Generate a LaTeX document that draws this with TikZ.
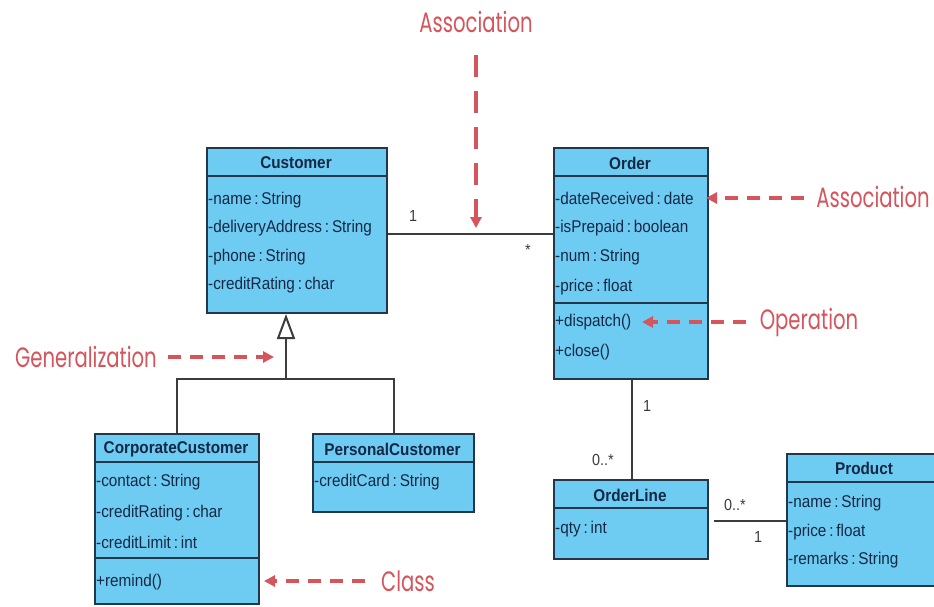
\documentclass[tikz,border=0pt]{standalone}
\usepackage{fontspec}
\setmainfont{Liberation Sans}
\newfontfamily\boxfont[FakeStretch=0.9]{Liberation Sans}
\newfontfamily\annfont[FakeStretch=0.70]{Poppins}
\usetikzlibrary{arrows.meta}
\definecolor{boxfill}{RGB}{110,204,242}
\definecolor{boxline}{RGB}{35,55,75}
\definecolor{txtc}{RGB}{20,40,70}
\definecolor{annc}{RGB}{214,84,92}
\definecolor{connc}{RGB}{60,60,60}
\tikzset{
  classbox/.style={draw=boxline, fill=boxfill, line width=2pt, inner sep=0pt, anchor=north west},
  attr/.style={font=\boxfont\fontsize{17}{17}\selectfont, text=txtc, anchor=west, inner sep=0pt},
  head/.style={font=\boxfont\bfseries\fontsize{17}{17}\selectfont, text=txtc, inner sep=0pt},
  sepline/.style={draw=boxline, line width=2pt},
  connline/.style={draw=connc, line width=2pt},
  mult/.style={font=\boxfont\fontsize{16}{16}\selectfont, text=connc, inner sep=0pt},
  annarrow/.style={draw=annc, line width=4pt, dash pattern=on 13pt off 9pt, -{Triangle[length=11pt,width=11pt]}},
  anntext/.style={font=\annfont\fontsize{28}{28}\selectfont, text=annc, inner sep=0pt},
}
\newcommand{\cl}{\,:\,}
\begin{document}
\begin{tikzpicture}[x=1pt,y=-1pt]
\useasboundingbox (0,0) rectangle (934,606);
\clip (0,0) rectangle (934,606);
\fill[white] (0,0) rectangle (934,606);

% Customer
\node[classbox, minimum width=180pt, minimum height=165pt] (cust) at (206,147) {};
\draw[sepline] (206,176) -- (386,176);
\node[head] (custh) at (296,163) {Customer};
\node[attr] (custa1) at (208,200) {-name\cl String};
\node[attr] (custa2) at (208,228) {-deliveryAddress\cl String};
\node[attr] (custa3) at (208,257) {-phone\cl String};
\node[attr] (custa4) at (208,285) {-creditRating\cl char};

% Order
\node[classbox, minimum width=154pt, minimum height=231pt] (order) at (553,147) {};
\draw[sepline] (553,176) -- (707,176);
\draw[sepline] (553,303) -- (707,303);
\node[head] (orderh) at (630,163) {Order};
\node[attr] (ordera1) at (555,198) {-dateReceived\cl date};
\node[attr] (ordera2) at (555,228) {-isPrepaid\cl boolean};
\node[attr] (ordera3) at (555,257) {-num\cl String};
\node[attr] (ordera4) at (555,287) {-price\cl float};
\node[attr] (orderm1) at (555,322) {+dispatch()};
\node[attr] (orderm2) at (555,352) {+close()};

% CorporateCustomer
\node[classbox, minimum width=164pt, minimum height=170pt] (corp) at (94,433) {};
\draw[sepline] (94,462) -- (258,462);
\draw[sepline] (94,558) -- (258,558);
\node[head] (corph) at (176,449) {CorporateCustomer};
\node[attr] (corpa1) at (96,482) {-contact\cl String};
\node[attr] (corpa2) at (96,513) {-creditRating\cl char};
\node[attr] (corpa3) at (96,542) {-creditLimit\cl int};
\node[attr] (corpm1) at (96,582) {+remind()};

% PersonalCustomer
\node[classbox, minimum width=161pt, minimum height=78pt] (pers) at (312,433) {};
\draw[sepline] (312,462) -- (473,462);
\node[head] (persh) at (392.5,449) {PersonalCustomer};
\node[attr] (persa1) at (314,482) {-creditCard\cl String};

% OrderLine
\node[classbox, minimum width=154pt, minimum height=79pt] (ol) at (553,479) {};
\draw[sepline] (553,508) -- (707,508);
\node[head] (olh) at (630,495) {OrderLine};
\node[attr] (ola1) at (555,529) {-qty\cl int};

% Product
\node[classbox, minimum width=156pt, minimum height=132pt] (prod) at (786,453) {};
\draw[sepline] (786,482) -- (942,482);
\node[head] (prodh) at (864,468) {Product};
\node[attr] (proda1) at (788,503) {-name\cl String};
\node[attr] (proda2) at (788,532) {-price\cl float};
\node[attr] (proda3) at (788,560) {-remarks\cl String};

% Association Customer - Order
\draw[connline] (cust.east |- 0,234) -- (order.west |- 0,234);
\node[mult] (m1) at (413,216) {1};
\node[mult] (m2) at (528,250) {*};

% Generalization
\coordinate (gj) at (286,379);
\draw[connline] (corp.north -| 177,0) -- (177,379) -- (394,379) -- (pers.north -| 394,0);
\draw[connline, -{Triangle[open, fill=white, length=25pt, width=18pt]}] (gj) -- (cust.south -| 286,0);

% Order - OrderLine
\draw[connline] (order.south -| 632,0) -- (ol.north -| 632,0);
\node[mult] (m3) at (647,406) {1};
\node[mult] (m4) at (603,460) {0..*};

% OrderLine - Product
\draw[connline] ([xshift=5pt]ol.east |- 0,521) -- (prod.west |- 0,521);
\node[mult] (m5) at (735,505) {0..*};
\node[mult] (m6) at (758,537) {1};

% Annotations
\node[anntext] (tassoc) at (476,22) {Association};
\coordinate (tassocs) at (476,55);
\coordinate (tassoce) at (476,228);
\draw[annarrow, dash pattern=on 22pt off 14pt] (tassocs) -- (tassoce);

\node[anntext] (tassoc2) at (873,197) {Association};
\coordinate (tassoc2e) at (706,198);
\draw[annarrow] ([xshift=-12pt]tassoc2.west |- 0,198) -- (tassoc2e);

\node[anntext] (top) at (809,322) {Operation};
\coordinate (tope) at (642,322);
\draw[annarrow] ([xshift=-14pt]top.west |- 0,322) -- (tope);

\node[anntext] (tgen) at (86,357) {Generalization};
\coordinate (tgene) at (274,357);
\draw[annarrow] ([xshift=11pt]tgen.east |- 0,357) -- (tgene);

\node[anntext] (tclass) at (408,581) {Class};
\coordinate (tclasse) at (264,581);
\draw[annarrow] ([xshift=-16pt]tclass.west |- 0,581) -- (tclasse);
\end{tikzpicture}
\end{document}
